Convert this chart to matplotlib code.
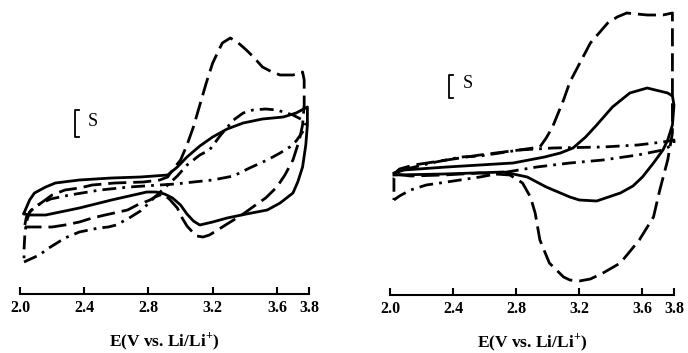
import matplotlib
matplotlib.use("Agg")
import matplotlib.pyplot as plt
from matplotlib.lines import Line2D

plt.rcParams['font.family'] = ['Liberation Serif', 'DejaVu Serif']
plt.rcParams['mathtext.fontset'] = 'custom'
plt.rcParams['mathtext.rm'] = 'Liberation Serif:bold'
plt.rcParams['mathtext.bf'] = 'Liberation Serif:bold'

# potential (V vs Li/Li+) and current (arbitrary units)
# left panel
left_solid_E = [2.025, 2.06, 2.09, 2.16, 2.22, 2.37, 2.57, 2.75, 2.92, 2.98, 3.04, 3.12, 3.20, 3.29, 3.39,
                3.51, 3.64, 3.72, 3.79, 3.79, 3.78, 3.76, 3.73, 3.70, 3.62, 3.54, 3.41, 3.29, 3.20, 3.12,
                3.08, 3.04, 3.00, 2.95, 2.90, 2.85, 2.79, 2.68, 2.57, 2.47, 2.37, 2.25, 2.16, 2.06, 2.025]
left_solid_I = [-2.8, -1.5, -0.8, -0.2, 0.2, 0.5, 0.7, 0.8, 1.0, 1.8, 2.8, 3.9, 4.8, 5.6, 6.2,
                6.6, 6.8, 7.2, 7.8, 6.0, 4.0, 1.8, 0.3, -0.8, -1.8, -2.5, -2.9, -3.3, -3.7, -4.0,
                -3.6, -2.9, -2.0, -1.3, -0.9, -0.7, -0.7, -1.1, -1.5, -1.9, -2.3, -2.7, -3.0, -3.0, -2.9]

left_dash_E = [2.03, 2.04, 2.07, 2.14, 2.20, 2.28, 2.37, 2.45, 2.59, 2.77, 2.87, 2.92, 2.95, 3.00, 3.04,
               3.08, 3.12, 3.16, 3.20, 3.23, 3.26, 3.31, 3.36, 3.41, 3.46, 3.51, 3.57, 3.62, 3.70, 3.76,
               3.77, 3.77, 3.77, 3.76, 3.74, 3.70, 3.65, 3.60, 3.53, 3.45, 3.39, 3.33, 3.23, 3.18, 3.14,
               3.10, 3.08, 3.04, 3.01, 2.98, 2.93, 2.89, 2.84, 2.81, 2.73, 2.67, 2.53, 2.45, 2.37, 2.28,
               2.20, 2.09, 2.03]
left_dash_I = [-4.0, -3.2, -2.5, -1.7, -1.0, -0.5, -0.3, 0.0, 0.2, 0.3, 0.5, 0.8, 1.5, 2.5, 4.0,
               5.8, 8.0, 10.2, 12.2, 13.2, 14.2, 14.7, 14.2, 13.5, 12.7, 11.8, 11.3, 11.0, 11.0, 11.3,
               10.5, 9.5, 8.0, 6.0, 4.5, 2.5, 1.0, -0.2, -1.3, -2.2, -2.9, -3.5, -4.5, -5.0, -5.2,
               -5.1, -4.8, -4.1, -3.3, -2.3, -1.4, -0.9, -1.2, -1.5, -2.0, -2.5, -3.0, -3.3, -3.7, -4.0,
               -4.2, -4.2, -4.2]

left_dashdot_E = [2.025, 2.12, 2.18, 2.28, 2.37, 2.49, 2.55, 2.60, 2.68, 2.75, 2.79, 2.84, 2.92, 2.98, 3.04,
                  3.12, 3.18, 3.25, 3.33, 3.39, 3.45, 3.53, 3.60, 3.70, 3.76, 3.78, 3.76, 3.72, 3.68, 3.62,
                  3.54, 3.43, 3.33, 3.20, 3.08, 2.97, 2.87, 2.68, 2.50, 2.31, 2.19, 2.11, 2.06, 2.04, 2.03,
                  2.025, 2.025]
left_dashdot_I = [-7.7, -7.0, -6.3, -5.3, -4.7, -4.3, -4.2, -4.0, -3.3, -2.6, -2.0, -1.2, 0.0, 0.9, 2.0,
                  3.0, 3.5, 5.0, 6.5, 7.2, 7.5, 7.6, 7.5, 7.0, 6.5, 6.2, 5.3, 4.4, 3.8, 3.2,
                  2.5, 1.7, 0.9, 0.5, 0.3, 0.1, 0.0, -0.2, -0.5, -1.0, -1.4, -2.0, -2.7, -3.7, -5.0,
                  -6.5, -7.7]

# right panel
right_solid_E = [2.025, 2.09, 2.36, 2.57, 2.78, 2.98, 3.08, 3.16, 3.24, 3.31, 3.41, 3.52, 3.63, 3.76, 3.79,
                 3.80, 3.79, 3.76, 3.73, 3.67, 3.60, 3.54, 3.46, 3.31, 3.20, 3.14, 2.99, 2.87, 2.72, 2.34,
                 2.025]
right_solid_I = [1.2, 1.5, 1.8, 2.0, 2.2, 2.8, 3.2, 3.7, 4.8, 6.0, 7.8, 9.2, 9.7, 9.2, 8.9,
                 8.0, 6.0, 4.5, 3.5, 2.2, 0.8, -0.1, -0.8, -1.6, -1.5, -1.2, -0.2, 0.8, 1.3, 1.1,
                 1.0]

right_dash_E = [2.025, 2.06, 2.15, 2.36, 2.57, 2.82, 2.95, 2.99, 3.03, 3.10, 3.14, 3.19, 3.27, 3.38, 3.44,
                3.50, 3.63, 3.73, 3.79, 3.79, 3.79, 3.79, 3.76, 3.71, 3.67, 3.58, 3.46, 3.35, 3.27, 3.20,
                3.14, 3.10, 3.01, 2.95, 2.92, 2.89, 2.84, 2.76, 2.57, 2.34, 2.13, 2.025]
right_dash_I = [1.1, 1.6, 2.0, 2.5, 3.0, 3.5, 3.8, 4.7, 5.8, 8.5, 10.3, 11.8, 14.2, 16.2, 16.8,
                17.2, 17.0, 17.0, 17.2, 14.5, 10.5, 5.2, 2.5, -0.5, -3.2, -5.5, -7.8, -8.8, -9.4, -9.6,
                -9.5, -9.2, -7.8, -5.5, -2.8, -1.2, 0.2, 1.0, 1.2, 1.0, 0.9, 1.1]

right_dashdot_E = [2.025, 2.06, 2.13, 2.23, 2.36, 2.57, 2.74, 2.93, 3.14, 3.35, 3.57, 3.73, 3.80,
                   3.80, 3.73, 3.57, 3.35, 3.03, 2.82, 2.57, 2.45, 2.26, 2.13, 2.05, 2.025, 2.025]
right_dashdot_I = [-1.5, -1.1, -0.5, 0.0, 0.3, 0.8, 1.3, 1.8, 2.2, 2.5, 3.0, 3.5, 4.1,
                   4.5, 4.3, 4.0, 3.8, 3.7, 3.5, 2.9, 2.8, 2.2, 1.7, 1.3, 0.7, -1.5]

ticks = [2.0, 2.4, 2.8, 3.2, 3.6, 3.8]
xlabel = r"E(V vs. Li/Li$^{+}$)"

lw = 2.0
dash = (0, (6.5, 2.5))
dashdot = (0, (5, 2.2, 1, 2.2))

fig = plt.figure(figsize=(6.88, 3.53), dpi=100)
ax1 = fig.add_axes([20 / 688, 1 - 294 / 353, 289 / 688, 294 / 353])
ax2 = fig.add_axes([390 / 688, 1 - 295 / 353, 284 / 688, 295 / 353])

panels = [
    (ax1, (left_solid_E, left_solid_I), (left_dash_E, left_dash_I), (left_dashdot_E, left_dashdot_I), (-10.9, 18.5)),
    (ax2, (right_solid_E, right_solid_I), (right_dash_E, right_dash_I), (right_dashdot_E, right_dashdot_I), (-11.0, 18.5)),
]

for ax, solid, dashed, dd, ylim in panels:
    ax.plot(*solid, color='black', lw=lw, linestyle='-', clip_on=False, solid_joinstyle='round')
    ax.plot(*dashed, color='black', lw=lw, linestyle=dash, clip_on=False)
    ax.plot(*dd, color='black', lw=lw, linestyle=dashdot, clip_on=False)
    ax.set_xlim(2.0, 3.8)
    ax.set_ylim(*ylim)
    for s in ['top', 'right', 'left']:
        ax.spines[s].set_visible(False)
    ax.spines['bottom'].set_linewidth(1.5)
    ax.set_yticks([])
    ax.set_xticks(ticks)
    ax.set_xticklabels([f"{t:.1f}" for t in ticks], fontweight='bold', fontsize=11.5)
    ax.tick_params(axis='x', direction='in', length=5, width=1.5, pad=4)
    ax.set_xlabel(xlabel, fontweight='bold', fontsize=12.5, labelpad=11)
    ax.patch.set_visible(False)

# scale markers "[ S"
for bx, by0, by1, sx, sy in [(75, 110, 137, 88, 122), (449, 75, 98, 463, 83)]:
    x0 = bx / 688
    x1 = (bx + 4) / 688
    fig.add_artist(Line2D([x1, x0, x0, x1], [1 - by0 / 353, 1 - by0 / 353, 1 - by1 / 353, 1 - by1 / 353],
                          color='black', lw=1.3))
    fig.text(sx / 688, 1 - sy / 353, "S", fontsize=13, ha='left', va='center')

plt.savefig("out.png", dpi=100)
